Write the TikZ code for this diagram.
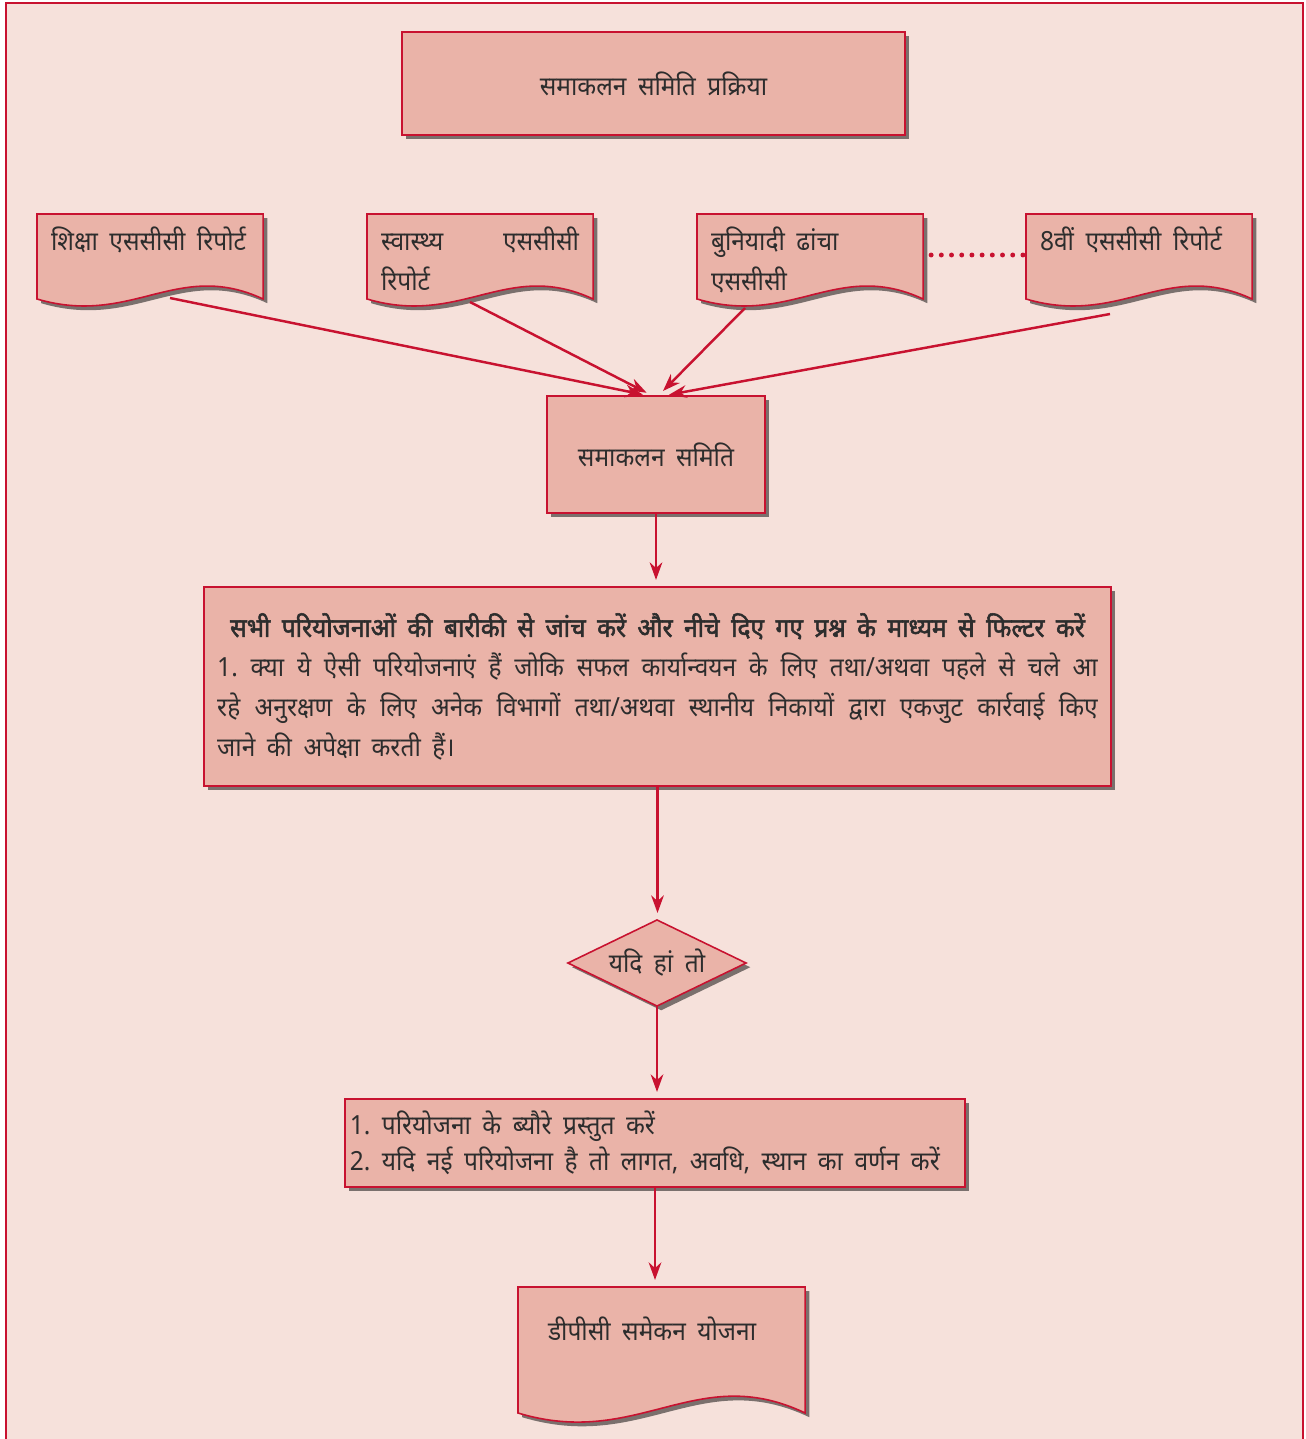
\documentclass[tikz,border=0pt]{standalone}
\usepackage{fontspec}
\setmainfont{Noto Sans}[Script=Devanagari,FakeStretch=0.93,WordSpace=1.8,
  BoldFont=Noto Sans,BoldFeatures={FakeBold=2}]
\usetikzlibrary{shapes.geometric,arrows.meta,shadows,backgrounds,calc}

\definecolor{pagefill}{RGB}{246,225,219}
\definecolor{boxfill}{RGB}{234,179,168}
\definecolor{crim}{RGB}{200,18,48}
\definecolor{inktext}{RGB}{45,45,45}

% document outline below a text node: node, side depth, wave height
\newcommand{\docoutline}[3]{%
  \filldraw[docline] (#1.north west) -- (#1.north east) -- ($(#1.north east)+(0,#2)$)
    .. controls ($(#1.north west)!.62!(#1.north east)+(0,#2-#3)$)
    and ($(#1.north west)!.42!(#1.north east)+(0,{#2+.7*#3})$) .. ($(#1.north west)+(0,#2)$) -- cycle;}

\begin{document}
\frenchspacing
\begin{tikzpicture}[x=0.01cm,y=-0.01cm,inner sep=0pt,outer sep=0pt,
font=\fontsize{7.5}{11.3}\selectfont,text=inktext,
boxshadow/.style={drop shadow={shadow xshift=1.2pt,shadow yshift=-1.2pt,fill=black,opacity=.5}},
procbox/.style={draw=crim,fill=boxfill,line width=.45pt,rectangle,boxshadow},
docnode/.style={rectangle,anchor=north west,align=justify,inner xsep=0.14cm,inner ysep=0.13cm,text width=1.98cm},
docline/.style={draw=crim,fill=boxfill,line width=.45pt,boxshadow},
choice/.style={draw=crim,fill=boxfill,line width=.45pt,diamond,aspect=2.07,boxshadow},
flow/.style={draw=crim,line width=.7pt,shorten >=2pt,-{Stealth[length=5pt,width=3.6pt]}}]

\useasboundingbox (0,0) rectangle (1305,1439);

\node[procbox,minimum width=5.03cm,minimum height=1.03cm] (title) at (653.5,83.5) {समाकलन समिति प्रक्रिया};

\node[docnode] (edu) at (37,214) {शिक्षा एससीसी रिपोर्ट};
\node[docnode] (health) at (367,214) {स्वास्थ्य एससीसी\linebreak रिपोर्ट};
\node[docnode] (infra) at (697,214) {बुनियादी ढांचा\\एससीसी};
\node[docnode] (eighth) at (1026,214) {8वीं एससीसी रिपोर्ट};

\node[procbox,minimum width=2.18cm,minimum height=1.17cm] (samiti) at (656,454.5) {समाकलन समिति};

\node[procbox,minimum width=9.07cm,minimum height=1.99cm,text width=8.8cm,align=justify] (filter) at (657.5,686.5)
{\makebox[\linewidth]{\bfseries सभी परियोजनाओं की बारीकी से जांच करें और नीचे दिए गए प्रश्न के माध्यम से फिल्टर करें}\\
1. क्या ये ऐसी परियोजनाएं हैं जोकि सफल कार्यान्वयन के लिए तथा/अथवा पहले से चले आ\linebreak
रहे अनुरक्षण के लिए अनेक विभागों तथा/अथवा स्थानीय निकायों द्वारा एकजुट कार्रवाई किए\linebreak
जाने की अपेक्षा करती हैं।};

\node[choice,minimum width=1.78cm,minimum height=0.86cm] (ifyes) at (657,963) {यदि हां तो};

\node[procbox,minimum width=6.2cm,minimum height=0.88cm,text width=6.1cm,align=justify,
font=\fontsize{7.5}{10.2}\selectfont] (details) at (655,1143)
{1. परियोजना के ब्यौरे प्रस्तुत करें\\2. यदि नई परियोजना है तो लागत, अवधि, स्थान का वर्णन करें};

\node[docnode,inner xsep=0.3cm,inner ysep=0.3cm,text width=2.27cm] (dpc) at (518,1287) {डीपीसी समेकन योजना};

% page and document outlines go behind the texts
\begin{scope}[on background layer]
\fill[pagefill] (6,3) rectangle (1303,1439);
\draw[crim,line width=.4pt] (6,1439) -- (6,3) -- (1303,3) -- (1303,1439);
\docoutline{edu}{85}{40}
\docoutline{health}{85}{40}
\docoutline{infra}{85}{40}
\docoutline{eighth}{85}{40}
\docoutline{dpc}{126}{52}
\end{scope}

\draw[crim,line width=1.4pt,line cap=round,dash pattern=on 0pt off 2.9pt] ($(infra.north east)+(8,41)$) -- ($(eighth.north west)+(-1,41)$);

\draw[flow] ($(edu.north west)+(133,84)$) -- (samiti.96);
\draw[flow] ($(health.north west)+(103,88)$) -- (samiti.93);
\draw[flow] ($(infra.north west)+(48,94)$) -- (samiti.88);
\draw[flow] ($(eighth.north west)+(84,100)$) -- (samiti.84);

\draw[flow] (samiti) -- (samiti |- filter.north);
\draw[flow] (filter) -- (filter |- ifyes.north);
\draw[flow] (ifyes) -- (ifyes |- details.north);
\draw[flow] (details) -- (details |- dpc.north);
\end{tikzpicture}
\end{document}
